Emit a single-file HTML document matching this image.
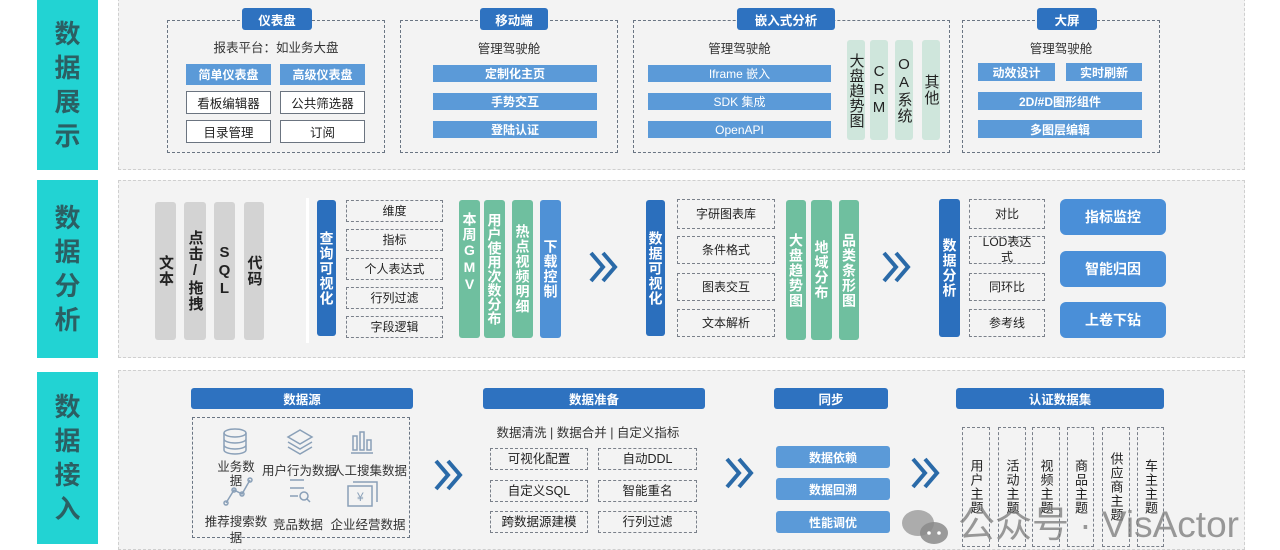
<!DOCTYPE html>
<html><head><meta charset="utf-8"><style>
*{margin:0;padding:0;box-sizing:border-box}
body{width:1280px;height:544px;background:#fff;position:relative;overflow:hidden;font-family:"Liberation Sans","Noto Sans CJK SC",sans-serif;color:#333}
div{position:absolute}
.lab{left:37px;width:61px;background:#22d3d3;color:#2b5f63;font-size:26px;font-weight:bold;display:flex;align-items:center;justify-content:center;text-align:center;line-height:34px}
.panel{left:118px;width:1127px;background:#f3f3f3;border:1px dashed #cfcfcf}
.dbox{border:1.5px dashed #6a7583}
.title{background:#2e72c0;color:#fff;font-size:12.5px;font-weight:bold;display:flex;align-items:center;justify-content:center;border-radius:3px}
.bb{background:#5b9ad8;color:#fff;font-size:12px;font-weight:bold;display:flex;align-items:center;justify-content:center}
.wb{background:#fff;border:1.5px solid #6b7480;font-size:12.5px;display:flex;align-items:center;justify-content:center;color:#222}
.dd{border:1.5px dashed #7a808a;font-size:12px;display:flex;align-items:center;justify-content:center;color:#222;text-align:center;line-height:15px}
.txt{font-size:12.5px;color:#333;text-align:center;white-space:nowrap}
.v{writing-mode:vertical-rl;text-orientation:upright;display:flex;align-items:center;justify-content:center;font-size:14px;border-radius:3px;line-height:1;letter-spacing:1px}
.g{background:#d3d3d3;color:#222;font-weight:bold}
.gr{background:#6fbf9f;color:#fff;font-weight:bold}
.lg{background:#cfe6dc;color:#222;font-size:15px}
.db{background:#2b6fbd;color:#fff;font-weight:bold}
.lb{background:#4f91d6;color:#fff;font-weight:bold}
.vd{border:1.5px dashed #7a808a;writing-mode:vertical-rl;text-orientation:upright;display:flex;align-items:center;justify-content:center;font-size:13px;color:#222;line-height:1;letter-spacing:1px}
.big{background:#4a8fd8;color:#fff;font-size:14px;font-weight:bold;border-radius:6px;display:flex;align-items:center;justify-content:center}
svg{position:absolute}
</style></head><body>

<div class="lab" style="top:0;height:170px">数<br>据<br>展<br>示</div>
<div class="lab" style="top:180px;height:178px">数<br>据<br>分<br>析</div>
<div class="lab" style="top:372px;height:172px">数<br>据<br>接<br>入</div>

<div class="panel" style="top:-2px;height:172px"></div>
<div class="panel" style="top:180px;height:178px"></div>
<div class="panel" style="top:370px;height:180px"></div>

<!-- Row 1 -->
<div class="dbox" style="left:167px;top:20px;width:218px;height:133px"></div>
<div class="title" style="left:242px;top:8px;width:70px;height:22px">仪表盘</div>
<div class="txt" style="left:167px;top:37px;width:218px">报表平台：如业务大盘</div>
<div class="bb" style="left:186px;top:64px;width:85px;height:21px">简单仪表盘</div>
<div class="bb" style="left:280px;top:64px;width:85px;height:21px">高级仪表盘</div>
<div class="wb" style="left:186px;top:91px;width:85px;height:23px">看板编辑器</div>
<div class="wb" style="left:280px;top:91px;width:85px;height:23px">公共筛选器</div>
<div class="wb" style="left:186px;top:120px;width:85px;height:23px">目录管理</div>
<div class="wb" style="left:280px;top:120px;width:85px;height:23px">订阅</div>

<div class="dbox" style="left:400px;top:20px;width:218px;height:133px"></div>
<div class="title" style="left:480px;top:8px;width:68px;height:22px">移动端</div>
<div class="txt" style="left:400px;top:38px;width:218px">管理驾驶舱</div>
<div class="bb" style="left:433px;top:65px;width:164px;height:17px">定制化主页</div>
<div class="bb" style="left:433px;top:93px;width:164px;height:17px">手势交互</div>
<div class="bb" style="left:433px;top:121px;width:164px;height:17px">登陆认证</div>

<div class="dbox" style="left:633px;top:20px;width:317px;height:133px"></div>
<div class="title" style="left:737px;top:8px;width:98px;height:22px">嵌入式分析</div>
<div class="txt" style="left:648px;top:38px;width:183px">管理驾驶舱</div>
<div class="bb" style="left:648px;top:65px;width:183px;height:17px;font-weight:normal">Iframe 嵌入</div>
<div class="bb" style="left:648px;top:93px;width:183px;height:17px;font-weight:normal">SDK 集成</div>
<div class="bb" style="left:648px;top:121px;width:183px;height:17px;font-weight:normal">OpenAPI</div>
<div class="v lg" style="left:847px;top:40px;width:18px;height:100px;letter-spacing:0">大盘趋势图</div>
<div class="v lg" style="left:870px;top:40px;width:18px;height:100px">CRM</div>
<div class="v lg" style="left:895px;top:40px;width:18px;height:100px">OA系统</div>
<div class="v lg" style="left:922px;top:40px;width:18px;height:100px">其他</div>

<div class="dbox" style="left:962px;top:20px;width:198px;height:133px"></div>
<div class="title" style="left:1037px;top:8px;width:60px;height:22px">大屏</div>
<div class="txt" style="left:962px;top:38px;width:198px">管理驾驶舱</div>
<div class="bb" style="left:978px;top:63px;width:77px;height:18px">动效设计</div>
<div class="bb" style="left:1066px;top:63px;width:76px;height:18px">实时刷新</div>
<div class="bb" style="left:978px;top:92px;width:164px;height:18px">2D/#D图形组件</div>
<div class="bb" style="left:978px;top:120px;width:164px;height:18px">多图层编辑</div>

<!-- Row 2 -->
<div class="v g" style="left:155px;top:202px;width:21px;height:138px;font-size:15px">文本</div>
<div class="v g" style="left:184px;top:202px;width:22px;height:138px;font-size:15px">点击/拖拽</div>
<div class="v g" style="left:214px;top:202px;width:21px;height:138px;font-size:15px">SQL</div>
<div class="v g" style="left:244px;top:202px;width:20px;height:138px;font-size:15px">代码</div>
<div style="left:306px;top:198px;width:3px;height:145px;background:#fff"></div>

<div class="v db" style="left:317px;top:200px;width:19px;height:136px">查询可视化</div>
<div class="dd" style="left:346px;top:200px;width:97px;height:22px">维度</div>
<div class="dd" style="left:346px;top:229px;width:97px;height:22px">指标</div>
<div class="dd" style="left:346px;top:258px;width:97px;height:22px">个人表达式</div>
<div class="dd" style="left:346px;top:287px;width:97px;height:22px">行列过滤</div>
<div class="dd" style="left:346px;top:316px;width:97px;height:22px">字段逻辑</div>
<div class="v gr" style="left:459px;top:200px;width:21px;height:138px;justify-content:flex-start;padding-top:12px">本周GMV</div>
<div class="v gr" style="left:484px;top:200px;width:21px;height:138px;letter-spacing:0">用户使用次数分布</div>
<div class="v gr" style="left:512px;top:200px;width:21px;height:138px">热点视频明细</div>
<div class="v lb" style="left:540px;top:200px;width:21px;height:138px">下载控制</div>

<svg style="left:588px;top:250px" width="32" height="34"><path d="M3 3 L15 17 L3 31 M15 3 L27 17 L15 31" fill="none" stroke="#2a6aa8" stroke-width="4"/></svg>

<div class="v db" style="left:646px;top:200px;width:19px;height:136px">数据可视化</div>
<div class="dd" style="left:677px;top:199px;width:98px;height:30px">字研图表库</div>
<div class="dd" style="left:677px;top:236px;width:98px;height:28px">条件格式</div>
<div class="dd" style="left:677px;top:273px;width:98px;height:28px">图表交互</div>
<div class="dd" style="left:677px;top:309px;width:98px;height:28px">文本解析</div>
<div class="v gr" style="left:786px;top:200px;width:20px;height:140px">大盘趋势图</div>
<div class="v gr" style="left:811px;top:200px;width:21px;height:140px">地域分布</div>
<div class="v gr" style="left:839px;top:200px;width:20px;height:140px">品类条形图</div>

<svg style="left:881px;top:250px" width="32" height="34"><path d="M3 3 L15 17 L3 31 M15 3 L27 17 L15 31" fill="none" stroke="#2a6aa8" stroke-width="4"/></svg>

<div class="v db" style="left:939px;top:199px;width:21px;height:138px">数据分析</div>
<div class="dd" style="left:969px;top:199px;width:76px;height:30px">对比</div>
<div class="dd" style="left:969px;top:236px;width:76px;height:28px">LOD表达<br>式</div>
<div class="dd" style="left:969px;top:273px;width:76px;height:28px">同环比</div>
<div class="dd" style="left:969px;top:309px;width:76px;height:28px">参考线</div>
<div class="big" style="left:1060px;top:199px;width:106px;height:36px">指标监控</div>
<div class="big" style="left:1060px;top:251px;width:106px;height:36px">智能归因</div>
<div class="big" style="left:1060px;top:302px;width:106px;height:36px">上卷下钻</div>

<!-- Row 3 -->
<div class="title" style="left:191px;top:388px;width:222px;height:21px">数据源</div>
<div class="dbox" style="left:192px;top:417px;width:218px;height:121px"></div>
<svg style="left:220px;top:428px" width="170" height="80" fill="none" stroke="#8aa0b8" stroke-width="1.5">
<ellipse cx="15" cy="5" rx="11" ry="4"/><path d="M4 5 V22 A11 4 0 0 0 26 22 V5 M4 11 A11 4 0 0 0 26 11 M4 17 A11 4 0 0 0 26 17"/>
<path d="M80 2 L92 9 L80 16 L68 9 Z M68 14 L80 21 L92 14 M68 19 L80 26 L92 19"/>
<path d="M133 8 h4 v14 h-4 z M140 4 h4 v18 h-4 z M147 12 h4 v10 h-4 z M131 25 h22"/>
<path d="M6 75 L14 62 L22 66 L30 52" /><circle cx="6" cy="75" r="2"/><circle cx="14" cy="62" r="2"/><circle cx="22" cy="66" r="2"/><circle cx="30" cy="52" r="2"/>
<path d="M70 52 h14 M70 60 h14 M70 68 h8"/><circle cx="84" cy="68" r="4"/><path d="M87 71 L90 74"/>
<rect x="128" y="58" width="24" height="20"/><path d="M133 54 h24 v20"/><text x="137" y="73" font-size="12" fill="#8aa0b8" stroke="none">¥</text>
</svg>
<div class="txt" style="left:210px;top:460px;width:52px;line-height:14px">业务数<br>据</div>
<div class="txt" style="left:262px;top:460px;width:70px">用户行为数据</div>
<div class="txt" style="left:332px;top:460px;width:72px">人工搜集数据</div>
<div class="txt" style="left:200px;top:514px;width:72px;white-space:normal;line-height:16px">推荐搜索数据</div>
<div class="txt" style="left:270px;top:514px;width:56px">竞品数据</div>
<div class="txt" style="left:330px;top:514px;width:76px">企业经营数据</div>

<svg style="left:433px;top:458px" width="32" height="34"><path d="M3 3 L15 17 L3 31 M15 3 L27 17 L15 31" fill="none" stroke="#2a6aa8" stroke-width="4"/></svg>

<div class="title" style="left:483px;top:388px;width:222px;height:21px">数据准备</div>
<div class="txt" style="left:483px;top:422px;width:210px">数据清洗 | 数据合并 | 自定义指标</div>
<div class="dd" style="left:490px;top:448px;width:98px;height:22px;font-size:12.5px">可视化配置</div>
<div class="dd" style="left:598px;top:448px;width:99px;height:22px;font-size:12.5px">自动DDL</div>
<div class="dd" style="left:490px;top:480px;width:98px;height:22px;font-size:12.5px">自定义SQL</div>
<div class="dd" style="left:598px;top:480px;width:99px;height:22px;font-size:12.5px">智能重名</div>
<div class="dd" style="left:490px;top:511px;width:98px;height:22px;font-size:12.5px">跨数据源建模</div>
<div class="dd" style="left:598px;top:511px;width:99px;height:22px;font-size:12.5px">行列过滤</div>

<svg style="left:724px;top:456px" width="32" height="34"><path d="M3 3 L15 17 L3 31 M15 3 L27 17 L15 31" fill="none" stroke="#2a6aa8" stroke-width="4"/></svg>

<div class="title" style="left:774px;top:388px;width:114px;height:21px">同步</div>
<div class="bb" style="left:776px;top:446px;width:114px;height:22px;border-radius:3px">数据依赖</div>
<div class="bb" style="left:776px;top:478px;width:114px;height:22px;border-radius:3px">数据回溯</div>
<div class="bb" style="left:776px;top:511px;width:114px;height:22px;border-radius:3px">性能调优</div>

<svg style="left:910px;top:456px" width="32" height="34"><path d="M3 3 L15 17 L3 31 M15 3 L27 17 L15 31" fill="none" stroke="#2a6aa8" stroke-width="4"/></svg>

<div class="title" style="left:956px;top:388px;width:208px;height:21px">认证数据集</div>
<div class="vd" style="left:962px;top:427px;width:28px;height:120px">用户主题</div>
<div class="vd" style="left:998px;top:427px;width:28px;height:120px">活动主题</div>
<div class="vd" style="left:1032px;top:427px;width:28px;height:120px">视频主题</div>
<div class="vd" style="left:1067px;top:427px;width:27px;height:120px">商品主题</div>
<div class="vd" style="left:1102px;top:427px;width:28px;height:120px">供应商主题</div>
<div class="vd" style="left:1137px;top:427px;width:27px;height:120px">车主主题</div>

<!-- watermark -->
<svg style="left:898px;top:505px" width="60" height="40"><ellipse cx="20" cy="18" rx="16" ry="13" fill="#9a9a9a" opacity="0.8"/><ellipse cx="36" cy="28" rx="14" ry="11" fill="#8a8a8a" opacity="0.85"/><circle cx="31" cy="28" r="1.8" fill="#fff"/><circle cx="41" cy="28" r="1.8" fill="#fff"/></svg>
<div style="left:958px;top:503px;font-size:37px;color:rgba(120,120,120,0.75);white-space:nowrap;line-height:44px">公众号 · VisActor</div>
</body></html>
